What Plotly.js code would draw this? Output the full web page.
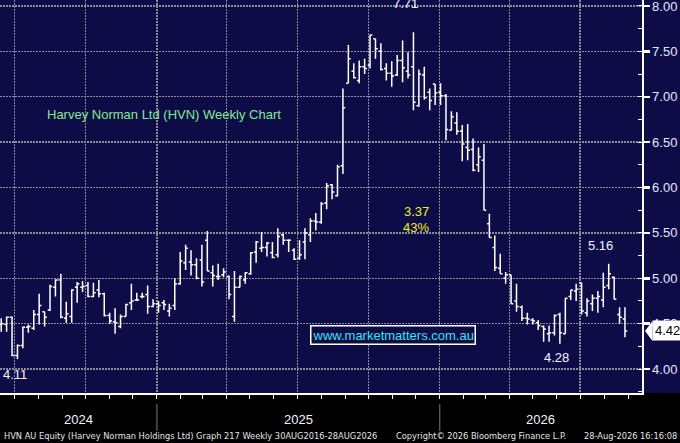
<!DOCTYPE html>
<html>
<head>
<meta charset="utf-8">
<script src="https://cdn.plot.ly/plotly-3.0.1.min.js"></script>
<style>
  html, body { margin: 0; padding: 0; background: #000; }
  #chart { width: 680px; height: 443px; }
</style>
</head>
<body>
<div id="chart"></div>
<script>
// Weekly bars (Friday dates), HVN AU
const weeks = [
    '2024-06-14','2024-06-21','2024-06-28','2024-07-05','2024-07-12','2024-07-19','2024-07-26','2024-08-02','2024-08-09','2024-08-16',
    '2024-08-23','2024-08-30','2024-09-06','2024-09-13','2024-09-20','2024-09-27','2024-10-04','2024-10-11','2024-10-18','2024-10-25',
    '2024-11-01','2024-11-08','2024-11-15','2024-11-22','2024-11-29','2024-12-06','2024-12-13','2024-12-20','2024-12-27','2025-01-03',
    '2025-01-10','2025-01-17','2025-01-24','2025-01-31','2025-02-07','2025-02-14','2025-02-21','2025-02-28','2025-03-07','2025-03-14',
    '2025-03-21','2025-03-28','2025-04-04','2025-04-11','2025-04-18','2025-04-25','2025-05-02','2025-05-09','2025-05-16','2025-05-23',
    '2025-05-30','2025-06-06','2025-06-13','2025-06-20','2025-06-27','2025-07-04','2025-07-11','2025-07-18','2025-07-25','2025-08-01',
    '2025-08-08','2025-08-15','2025-08-22','2025-08-29','2025-09-05','2025-09-12','2025-09-19','2025-09-26','2025-10-03','2025-10-10',
    '2025-10-17','2025-10-24','2025-10-31','2025-11-07','2025-11-14','2025-11-21','2025-11-28','2025-12-05','2025-12-12','2025-12-19',
    '2025-12-26','2026-01-02','2026-01-09','2026-01-16','2026-01-23','2026-01-30','2026-02-06','2026-02-13','2026-02-20','2026-02-27',
    '2026-03-06','2026-03-13','2026-03-20','2026-03-27','2026-04-03','2026-04-10','2026-04-17','2026-04-24','2026-05-01','2026-05-08',
    '2026-05-15','2026-05-22','2026-05-29','2026-06-05','2026-06-12','2026-06-19','2026-06-26','2026-07-03','2026-07-10','2026-07-17',
    '2026-07-24','2026-07-31','2026-08-07','2026-08-14','2026-08-21','2026-08-28'
];

const opens = [
    4.49,4.49,4.57,4.15,4.26,4.46,4.45,4.60,4.63,4.65,
    4.90,4.98,4.56,4.58,4.90,4.90,4.92,4.80,4.87,4.83,
    4.59,4.52,4.47,4.58,4.73,4.76,4.80,4.82,4.69,4.72,
    4.73,4.64,4.70,4.94,5.17,5.18,5.15,5.20,5.42,5.06,
    5.02,5.04,5.02,4.58,4.90,4.98,5.05,5.29,5.33,5.34,
    5.28,5.26,5.48,5.42,5.31,5.22,5.40,5.48,5.63,5.62,
    5.83,6.03,5.91,6.24,7.15,7.28,7.18,7.33,7.35,7.64,
    7.50,7.31,7.26,7.24,7.40,7.28,7.33,6.90,7.24,7.05,
    7.14,7.05,7.01,6.63,6.71,6.62,6.44,6.42,6.25,6.30,
    5.60,5.34,5.11,5.00,5.04,4.75,4.68,4.56,4.54,4.51,
    4.47,4.39,4.40,4.60,4.39,4.80,4.86,4.95,4.62,4.72,
    4.78,4.76,4.92,5.01,4.60,4.55
];
const highs = [
    4.56,4.58,4.58,4.27,4.47,4.49,4.65,4.83,4.63,4.93,
    4.99,5.05,4.74,4.88,4.96,4.97,4.96,4.95,4.98,4.84,
    4.62,4.67,4.60,4.72,4.94,4.84,4.84,4.92,4.77,4.75,
    4.76,4.72,5.00,5.29,5.37,5.31,5.22,5.37,5.52,5.14,
    5.16,5.11,5.03,5.08,5.03,5.07,5.29,5.41,5.51,5.40,
    5.40,5.55,5.49,5.43,5.33,5.42,5.55,5.66,5.72,5.84,
    6.05,6.04,6.25,7.09,7.57,7.37,7.40,7.42,7.68,7.64,
    7.59,7.37,7.39,7.46,7.62,7.49,7.71,7.30,7.33,7.09,
    7.14,7.15,7.03,6.84,6.83,6.69,6.70,6.54,6.44,6.48,
    5.71,5.47,5.27,5.07,5.04,4.94,4.70,4.62,4.56,4.54,
    4.48,4.48,4.60,4.62,4.78,4.87,4.94,4.95,4.78,4.82,
    4.86,5.06,5.16,5.02,4.68,4.68
];
const lows = [
    4.41,4.41,4.14,4.11,4.23,4.40,4.43,4.49,4.47,4.64,
    4.80,4.56,4.51,4.51,4.73,4.85,4.79,4.79,4.79,4.58,
    4.50,4.39,4.45,4.58,4.65,4.75,4.78,4.61,4.68,4.62,
    4.65,4.58,4.65,4.93,5.09,5.03,4.99,4.91,5.08,4.91,
    4.98,5.01,4.77,4.52,4.90,4.94,5.04,5.17,5.29,5.24,
    5.22,5.23,5.37,5.29,5.20,5.20,5.21,5.40,5.53,5.60,
    5.76,5.87,5.90,6.15,7.15,7.20,7.15,7.25,7.31,7.42,
    7.29,7.18,7.11,7.23,7.16,7.20,6.85,6.89,6.97,6.85,
    6.91,6.91,6.52,6.63,6.58,6.29,6.30,6.18,6.17,5.75,
    5.45,5.08,5.05,4.94,4.72,4.63,4.53,4.49,4.49,4.43,
    4.30,4.30,4.37,4.28,4.39,4.76,4.75,4.60,4.58,4.64,
    4.62,4.68,4.88,4.77,4.50,4.35
];
const closes = [
    4.50,4.57,4.15,4.26,4.46,4.47,4.60,4.70,4.57,4.91,
    4.98,4.57,4.61,4.87,4.94,4.91,4.80,4.84,4.83,4.59,
    4.53,4.51,4.58,4.71,4.75,4.76,4.80,4.69,4.72,4.70,
    4.71,4.67,4.94,5.19,5.33,5.15,5.00,4.96,5.08,5.03,
    5.02,5.07,4.82,4.90,5.02,5.06,5.28,5.40,5.34,5.39,
    5.23,5.46,5.42,5.42,5.21,5.26,5.50,5.63,5.62,5.82,
    6.02,5.95,6.23,6.88,7.42,7.21,7.33,7.31,7.68,7.53,
    7.30,7.26,7.23,7.40,7.32,7.24,6.94,7.25,6.99,6.96,
    7.04,7.01,6.64,6.78,6.62,6.48,6.41,6.19,6.34,5.75,
    5.45,5.12,5.05,5.04,4.72,4.69,4.56,4.55,4.53,4.48,
    4.44,4.40,4.59,4.40,4.78,4.87,4.88,4.64,4.75,4.78,
    4.80,4.90,5.05,4.77,4.57,4.42
];

const yearLabels = ['2024', '2025', '2026'];
const yearStarts = ['2025-01-01', '2026-01-01'];

// plot geometry (px) used to place text
const PW = 642, PH = 393;
const xRange = ['2024-06-12 11:00', '2026-09-18 23:00'];
const yRange = [3.736, 8.066];
const px = x => x / PW;
const py = y => (PH - y) / PH;
const dateFrac = d => {
    const t0 = new Date(xRange[0].replace(' ', 'T') + 'Z').getTime();
    const t1 = new Date(xRange[1].replace(' ', 'T') + 'Z').getTime();
    return (new Date(d + 'T00:00:00Z').getTime() - t0) / (t1 - t0);
};

const WHITE = '#f2f5ff';
const GRID = '#8d8d98';

const trace = {
    type: 'ohlc',
    x: weeks,
    open: opens,
    high: highs,
    low: lows,
    close: closes,
    increasing: { line: { color: '#ffffff', width: 1.5 } },
    decreasing: { line: { color: '#ffffff', width: 1.5 } },
    tickwidth: 0.42,
    hoverinfo: 'skip'
};

const lastClose = closes[closes.length - 1];
const lastFrac = (lastClose - yRange[0]) / (yRange[1] - yRange[0]);

const footFont = { family: 'DejaVu Sans Condensed, Liberation Sans Narrow, sans-serif', size: 9.2, color: '#e6e6e6' };

const annotations = [
    { text: 'Harvey Norman Ltd (HVN) Weekly Chart', x: px(45), y: py(114), xanchor: 'left',
      font: { size: 13, color: '#84ea92' } },
    { text: '7.71', x: px(405), y: py(3), font: { size: 13, color: WHITE } },
    { text: '4.11', x: px(1), y: py(374), xanchor: 'left', font: { size: 13, color: WHITE } },
    { text: '4.28', x: px(556), y: py(357), font: { size: 13, color: WHITE } },
    { text: '5.16', x: px(600), y: py(245), font: { size: 13, color: WHITE } },
    { text: '3.37', x: px(416), y: py(211), font: { size: 13, color: '#eeee22' } },
    { text: '43%', x: px(416), y: py(227), font: { size: 13, color: '#eeee22' } },
    { text: 'www.marketmatters.com.au', x: px(393), y: py(334.5), font: { size: 13, color: '#36e4f0' },
      bordercolor: '#ffffff', borderwidth: 1.5, borderpad: 1, bgcolor: '#0e0c47' },
    { text: lastClose.toFixed(2), x: 1, xshift: 10, y: lastClose, yref: 'y', xanchor: 'left',
      font: { size: 13, color: '#000000' }, bgcolor: '#ffffff', borderpad: 2 },
    // x axis year labels, centred in the visible part of each year
    { text: yearLabels[0], x: dateFrac(yearStarts[0]) / 2, y: py(419), font: { size: 13, color: WHITE } },
    { text: yearLabels[1], x: (dateFrac(yearStarts[0]) + dateFrac(yearStarts[1])) / 2, y: py(419), font: { size: 13, color: WHITE } },
    { text: yearLabels[2], x: (dateFrac(yearStarts[1]) + 1) / 2, y: py(419), font: { size: 13, color: WHITE } },
    // footer
    { text: 'HVN AU Equity (Harvey Norman Holdings Ltd) Graph 217 Weekly 30AUG2016-28AUG2026',
      x: px(2), y: py(436), xanchor: 'left', font: footFont },
    { text: 'Copyright\u00a9 2026 Bloomberg Finance L.P.', x: px(394), y: py(436), xanchor: 'left', font: footFont },
    { text: '28-Aug-2026 16:16:08', x: px(679), y: py(436), xanchor: 'right', font: footFont }
].map(a => Object.assign({ xref: 'paper', yref: 'paper', showarrow: false, xanchor: 'center', yanchor: 'middle' }, a));

const shapes = [
    // black strip under the plot
    { type: 'rect', xref: 'paper', yref: 'paper', x0: -0.02, x1: 1.1, y0: -0.2, y1: 0,
      fillcolor: '#000000', line: { width: 0 }, layer: 'below' },
    // pointer of the last price box
    { type: 'path', xref: 'paper', yref: 'paper', fillcolor: '#ffffff', line: { width: 0 },
      path: `M ${1 + 3 / PW} ${lastFrac} L ${1 + 10.5 / PW} ${lastFrac + 10 / PH} L ${1 + 10.5 / PW} ${lastFrac - 10 / PH} Z` }
].concat(yearStarts.map(d => ({
    type: 'line', xref: 'paper', yref: 'paper', x0: dateFrac(d), x1: dateFrac(d),
    y0: py(404), y1: py(431), line: { color: '#7c7c7c', width: 1 }
})));

const layout = {
    width: 680,
    height: 443,
    margin: { l: 0, r: 38, t: 0, b: 50 },
    paper_bgcolor: '#0e0c47',
    plot_bgcolor: '#0e0c47',
    showlegend: false,
    font: { family: 'Liberation Sans, Arial, sans-serif', size: 13, color: WHITE },
    xaxis: {
        type: 'date',
        range: xRange,
        rangeslider: { visible: false },
        tick0: '2024-01-01',
        dtick: 'M3',
        showgrid: true,
        gridcolor: GRID,
        gridwidth: 1.4,
        griddash: '1.5px,1.5px',
        ticks: 'outside',
        ticklen: 4,
        tickwidth: 1,
        tickcolor: '#ffffff',
        showticklabels: false,
        minor: { tick0: '2024-01-01', dtick: 'M1', ticks: 'outside', ticklen: 4, tickwidth: 1,
                 tickcolor: '#ffffff', showgrid: false },
        showline: true,
        linecolor: '#ffffff',
        linewidth: 1.5,
        zeroline: false,
        fixedrange: true
    },
    yaxis: {
        side: 'right',
        range: yRange,
        tick0: 4,
        dtick: 0.5,
        tickformat: '.2f',
        ticklabeloverflow: 'allow',
        showgrid: true,
        gridcolor: GRID,
        gridwidth: 1.4,
        griddash: '1.5px,1.5px',
        ticks: 'outside',
        ticklen: 6,
        tickwidth: 2.5,
        tickcolor: '#ffffff',
        tickfont: { size: 13, color: '#e2e9ff' },
        minor: { dtick: 0.25, ticks: 'inside', ticklen: 4, tickwidth: 1, tickcolor: '#ffffff', showgrid: false },
        showline: true,
        linecolor: '#ffffff',
        linewidth: 1.5,
        zeroline: false,
        fixedrange: true
    },
    annotations: annotations,
    shapes: shapes
};

Plotly.newPlot('chart', [trace], layout, { staticPlot: true, displayModeBar: false });
</script>
</body>
</html>
